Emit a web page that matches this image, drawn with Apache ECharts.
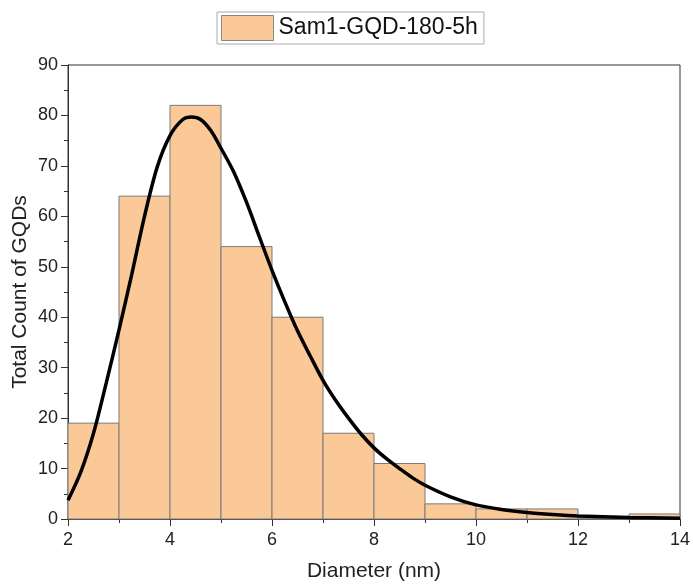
<!DOCTYPE html>
<html><head><meta charset="utf-8">
<script src="https://cdn.jsdelivr.net/npm/echarts@6/dist/echarts.min.js"></script>
<style>html,body{margin:0;padding:0;background:#fff}#c{width:693px;height:584px}</style>
</head><body><div id="c"></div>
<script>
const binStarts = [2,3,4,5,6,7,8,9,10,11,12,13];
const binWidth = 1;
const counts = [19,64,82,54,40,17,11,3,2,2,0,1];
const fitX = [2,2.25,2.5,2.75,3,3.25,3.5,3.75,4,4.25,4.42,4.6,4.8,5,5.25,5.5,5.75,6,6.25,6.5,6.75,7,7.25,7.5,7.75,8,8.25,8.5,8.75,9,9.5,10,10.5,11,11.5,12,13,14];
const fitY = [3.7,9.3,17,27,37.5,48.5,60,69.8,76,79.2,79.7,79.2,77,73.5,68.8,62.8,56,49.3,43.1,37.3,32.3,27.5,23.5,20,16.8,14.1,11.9,10,8.2,6.7,4.4,2.8,1.9,1.3,0.9,0.6,0.3,0.15];
const xTicks = {min:2,max:14,interval:2};
const yTicks = {min:0,max:90,interval:10};

const font = "'Liberation Sans', Arial, sans-serif";
const barColor = '#FBC897';
const chart = echarts.init(document.getElementById('c'));
chart.setOption({
  animation:false,
  backgroundColor:'#fff',
  grid:{left:68,right:13,top:65,bottom:65,containLabel:false,outerBoundsMode:'none',show:true,borderColor:'#333',borderWidth:1,backgroundColor:'transparent'},
  legend:{
    top:12,left:217,
    data:[{name:'Sam1-GQD-180-5h',icon:'rect',itemStyle:{color:barColor,borderColor:'#888',borderWidth:1}}],
    itemWidth:52,itemHeight:25,itemGap:8,
    padding:[3,6,3,4],
    borderColor:'#aaa',borderWidth:1,
    textStyle:{fontFamily:font,fontSize:23,color:'#111'}
  },
  xAxis:{
    type:'value',min:xTicks.min,max:xTicks.max,interval:xTicks.interval,
    name:'Diameter (nm)',nameLocation:'middle',nameGap:42,nameMoveOverlap:false,
    nameTextStyle:{fontFamily:font,fontSize:21,color:'#222'},
    axisLine:{lineStyle:{color:'#333',width:1}},
    axisTick:{show:true,inside:false,length:7,lineStyle:{color:'#333'}},
    minorTick:{show:true,splitNumber:2,length:4,lineStyle:{color:'#333'}},
    axisLabel:{fontFamily:font,fontSize:18,color:'#222',margin:12},
    splitLine:{show:false}
  },
  yAxis:{
    type:'value',min:yTicks.min,max:yTicks.max,interval:yTicks.interval,
    name:'Total Count of GQDs',nameLocation:'middle',nameGap:37,nameMoveOverlap:false,
    nameTextStyle:{fontFamily:font,fontSize:21,color:'#222'},
    axisLine:{show:true,lineStyle:{color:'#333',width:1}},
    axisTick:{show:true,inside:false,length:7,lineStyle:{color:'#333'}},
    minorTick:{show:true,splitNumber:2,length:4,lineStyle:{color:'#333'}},
    axisLabel:{fontFamily:font,fontSize:18,color:'#222',margin:10},
    splitLine:{show:false}
  },
  series:[
    {
      name:'Sam1-GQD-180-5h',type:'custom',
      itemStyle:{color:barColor},
      data:binStarts.map((s,i)=>[s,counts[i]]),
      encode:{x:0,y:1},
      renderItem:function(params,api){
        const x0=api.value(0), v=api.value(1);
        const p0=api.coord([x0,0]);
        const p1=api.coord([x0+binWidth,v]);
        return {type:'rect',shape:{x:p0[0],y:p1[1],width:p1[0]-p0[0],height:p0[1]-p1[1]},
          style:{fill:barColor,stroke:'#7a7a7a',lineWidth:1}};
      },
      z:1
    },
    {
      name:'fit',type:'line',smooth:0.3,symbol:'none',
      data:fitX.map((x,i)=>[x,fitY[i]]),
      lineStyle:{color:'#000',width:3.5},
      z:3
    }
  ]
});
</script></body></html>
